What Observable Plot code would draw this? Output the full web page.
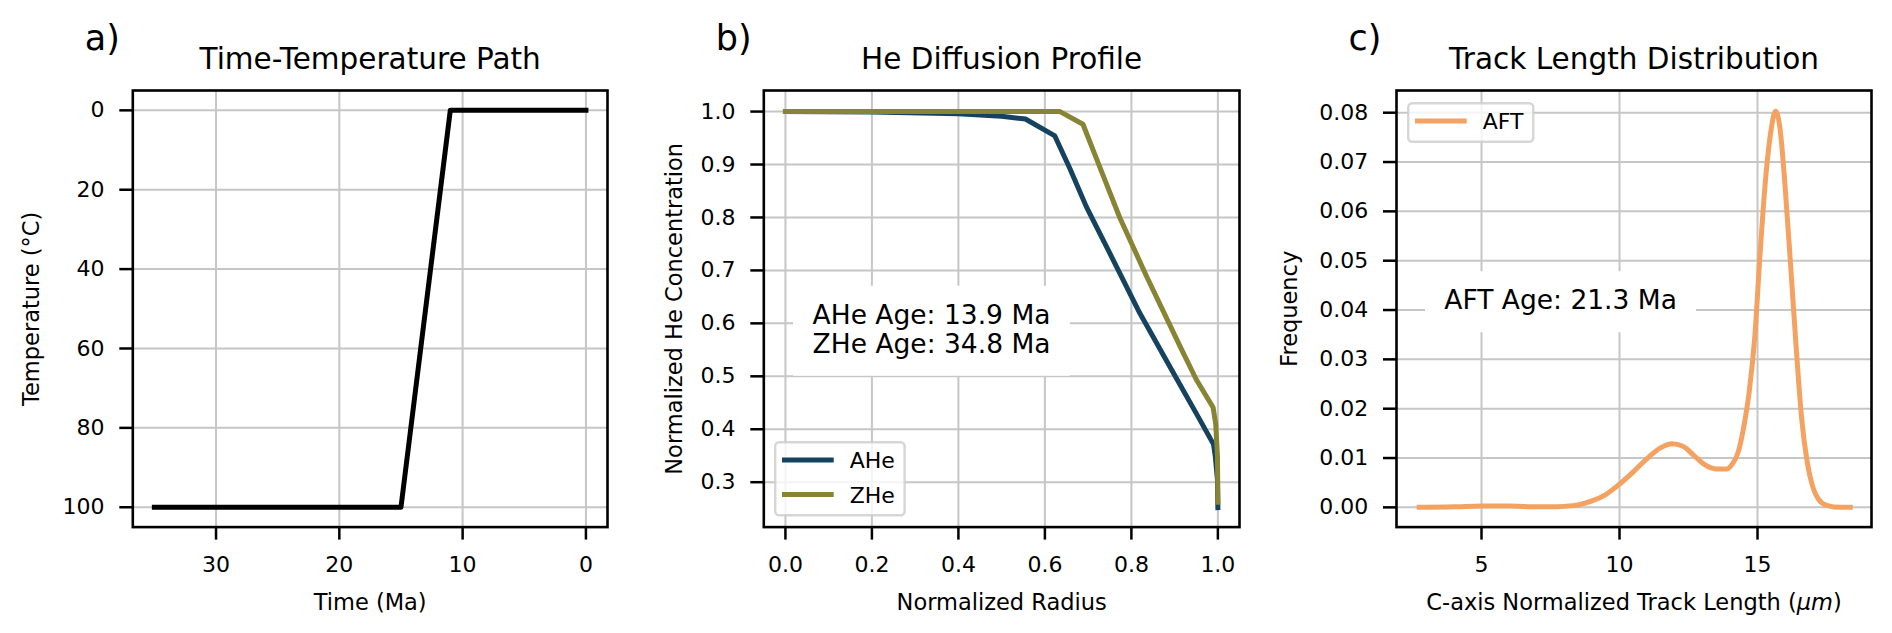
<!DOCTYPE html>
<html><head><meta charset="utf-8">
<script src="https://cdn.jsdelivr.net/npm/d3@7"></script>
<script src="https://cdn.jsdelivr.net/npm/@observablehq/plot@0.6"></script>
<style>
html,body{margin:0;padding:0;background:#fff;}
#root{position:relative;width:1892px;height:633px;overflow:hidden;font-family:"DejaVu Sans",sans-serif;color:#000;}
.annot{position:absolute;background:#fff;font-family:"DejaVu Sans",sans-serif;font-size:26.5px;line-height:29px;white-space:pre;padding:14.5px 19px 18px 19.4px;transform:translateY(-50%);}
</style></head><body><div id="root"></div>
<script>
// ---------- data ----------
const ttTime = [35, 15, 11, 0];
const ttTemp = [100, 100, 0, 0];
const ttTimeTicks = [30, 20, 10, 0];
const ttTempTicks = [0, 20, 40, 60, 80, 100];

const radiusAHe = [0, 0.2, 0.4, 0.5, 0.555, 0.623, 0.658, 0.696, 0.75, 0.819, 0.905, 0.95, 0.99, 0.994, 0.999, 1.0];
const concAHe   = [1.0, 0.999, 0.996, 0.991, 0.986, 0.954, 0.892, 0.82, 0.7325, 0.62, 0.495, 0.43, 0.3715, 0.349, 0.305, 0.252];
const radiusZHe = [0, 0.635, 0.688, 0.727, 0.773, 0.835, 0.912, 0.95, 0.989, 0.995, 0.999, 1.0];
const concZHe   = [1.0, 1.0, 0.976, 0.895, 0.80, 0.689, 0.5575, 0.494, 0.441, 0.41, 0.35, 0.262];
const radiusTicks = [0, 0.2, 0.4, 0.6, 0.8, 1.0];
const concTicks = [0.3, 0.4, 0.5, 0.6, 0.7, 0.8, 0.9, 1.0];

const trackLen  = [2.65, 4.0, 5.0, 6.0, 7.0, 7.5, 8.0, 8.5, 9.0, 9.5, 10.0, 10.5, 11.0, 11.5, 11.9, 12.3, 12.7, 13.1, 13.5, 13.9, 14.1, 14.3, 14.5, 14.7, 14.9, 15.1, 15.3, 15.5, 15.65, 15.8, 16.0, 16.2, 16.4, 16.6, 16.8, 17.0, 17.2, 17.5, 18.0, 18.45];
const trackFreq = [0.0, 0.0001, 0.0003, 0.0003, 0.0001, 0.0001, 0.0002, 0.0005, 0.0013, 0.0026, 0.0047, 0.0072, 0.0099, 0.0121, 0.0129, 0.0124, 0.0105, 0.0086, 0.0078, 0.0078, 0.0089, 0.0112, 0.0163, 0.0235, 0.0345, 0.052, 0.067, 0.0768, 0.0803, 0.0775, 0.065, 0.049, 0.0325, 0.018, 0.0092, 0.0042, 0.0017, 0.0004, 0.0, 0.0];
const lenTicks = [5, 10, 15];
const freqTicks = [0, 0.01, 0.02, 0.03, 0.04, 0.05, 0.06, 0.07, 0.08];

const panelTitles = ["Time-Temperature Path", "He Diffusion Profile", "Track Length Distribution"];
const panelLetters = ["a)", "b)", "c)"];
const xLabels = ["Time (Ma)", "Normalized Radius", "C-axis Normalized Track Length (μm)"];
const yLabels = ["Temperature (°C)", "Normalized He Concentration", "Frequency"];
const seriesNames = ["AHe", "ZHe", "AFT"];
const seriesColors = ["#15435f", "#878434", "#f4a261"];
const heAnnotText = ["AHe Age: 13.9 Ma", "ZHe Age: 34.8 Ma"];
const heAnnotAt = [0.064, 0.585];
const aftAnnotText = ["AFT Age: 21.3 Ma"];
const aftAnnotAt = [3.67, 0.0416];

// ---------- layout ----------
const H = 633, MT = 90, MB = 633 - 526.6;
const panels = [
  {left: 0, width: 650, ml: 132.3, mr: 43, ylabDx: -93.5},
  {left: 650, width: 620, ml: 113.3, mr: 31, ylabDx: -81.5},
  {left: 1270, width: 622, ml: 126, mr: 21, ylabDx: -100}
];
const root = document.getElementById("root");
const GRID = {stroke: "#c6c6c6", strokeOpacity: 1, strokeWidth: 2};
const AX = {tickSize: 13, fontSize: 22, strokeWidth: 2.5, label: null};

function decor(i) {
  return [
    Plot.text([panelTitles[i]], {text: d => d, frameAnchor: "top", dy: -21.7, lineAnchor: "bottom", fontSize: 29.5}),
    Plot.text([panelLetters[i]], {text: d => d, frameAnchor: "top-left", dx: -48, dy: -40.5, textAnchor: "start", lineAnchor: "bottom", fontSize: 35}),
    Plot.text([xLabels[i]], {text: d => d, frameAnchor: "bottom", dy: 82.7, lineAnchor: "bottom", fontSize: 22.5}),
    Plot.text([yLabels[i]], {text: d => d, frameAnchor: "left", dx: panels[i].ylabDx, rotate: -90, textAnchor: "middle", lineAnchor: "bottom", fontSize: 22.5})
  ];
}

function place(svg, i) {
  svg.style.position = "absolute";
  svg.style.left = panels[i].left + "px";
  svg.style.top = "0px";
  svg.style.maxWidth = "none";
  root.appendChild(svg);
  return svg;
}

function base(i) {
  const p = panels[i];
  return {width: p.width, height: H, marginLeft: p.ml, marginRight: p.mr, marginTop: MT, marginBottom: MB,
    style: {fontFamily: "DejaVu Sans", fontSize: "22px", color: "#000", background: "transparent", overflow: "visible"}};
}

// panel a
const ttData = ttTime.map((t, k) => ({t, temp: ttTemp[k]}));
const svgA = place(Plot.plot({
  ...base(0),
  x: {domain: [36.75, -1.75]},
  y: {domain: [-5, 105], reverse: true},
  marks: [
    Plot.gridX({ticks: ttTimeTicks, ...GRID}),
    Plot.gridY({ticks: ttTempTicks, ...GRID}),
    Plot.line(ttData, {x: "t", y: "temp", stroke: "#000", strokeWidth: 5, strokeLinecap: "square", strokeLinejoin: "round"}),
    Plot.frame({stroke: "#000", strokeWidth: 2.6}),
    Plot.axisX({ticks: ttTimeTicks, ...AX, tickPadding: 16, tickFormat: d => String(d)}),
    Plot.axisY({ticks: ttTempTicks, ...AX, tickPadding: 15.3, tickFormat: d => String(d)}),
    ...decor(0)
  ]
}), 0);

// panel b
const aheData = radiusAHe.map((r, k) => ({r, c: concAHe[k]}));
const zheData = radiusZHe.map((r, k) => ({r, c: concZHe[k]}));
const svgB = place(Plot.plot({
  ...base(1),
  x: {domain: [-0.05, 1.05]},
  y: {domain: [0.2152, 1.0398]},
  marks: [
    Plot.gridX({ticks: radiusTicks, ...GRID}),
    Plot.gridY({ticks: concTicks, ...GRID}),
    Plot.line(aheData, {x: "r", y: "c", stroke: seriesColors[0], strokeWidth: 5, strokeLinecap: "square", strokeLinejoin: "round"}),
    Plot.line(zheData, {x: "r", y: "c", stroke: seriesColors[1], strokeWidth: 5, strokeLinecap: "square", strokeLinejoin: "round"}),
    Plot.frame({stroke: "#000", strokeWidth: 2.6}),
    Plot.axisX({ticks: radiusTicks, ...AX, tickPadding: 16, tickFormat: d => d.toFixed(1)}),
    Plot.axisY({ticks: concTicks, ...AX, tickPadding: 15.3, tickFormat: d => d.toFixed(1)}),
    ...decor(1)
  ]
}), 1);

// panel c
const aftData = trackLen.map((l, k) => ({l, f: trackFreq[k]}));
const svgC = place(Plot.plot({
  ...base(2),
  x: {domain: [1.92, 19.13]},
  y: {domain: [-0.004, 0.0845]},
  marks: [
    Plot.gridX({ticks: lenTicks, ...GRID}),
    Plot.gridY({ticks: freqTicks, ...GRID}),
    Plot.line(aftData, {x: "l", y: "f", stroke: seriesColors[2], strokeWidth: 5, curve: "monotone-x", strokeLinecap: "butt", strokeLinejoin: "round"}),
    Plot.frame({stroke: "#000", strokeWidth: 2.6}),
    Plot.axisX({ticks: lenTicks, ...AX, tickPadding: 16, tickFormat: d => String(d)}),
    Plot.axisY({ticks: freqTicks, ...AX, tickPadding: 15.3, tickFormat: d => d.toFixed(2)}),
    ...decor(2)
  ]
}), 2);

// italic μm in panel c x label
(function () {
  const t = [...svgC.querySelectorAll("text")].find(e => e.textContent === xLabels[2]);
  if (!t) return;
  const m = xLabels[2].match(/^(.*\()(μm)(\).*)$/);
  if (!m) return;
  t.textContent = "";
  const ns = "http://www.w3.org/2000/svg";
  [[m[1], false], [m[2], true], [m[3], false]].forEach(([s, it]) => {
    const ts = document.createElementNS(ns, "tspan");
    ts.textContent = s;
    if (it) ts.setAttribute("font-style", "italic");
    t.appendChild(ts);
  });
})();

// legends (matplotlib-like boxes)
function addLegend(entries, left, top, anchorBottom) {
  const n = entries.length, rowH = 34.4, h = 41 + (n - 1) * rowH;
  const svg = d3.select(root).append("svg")
    .style("position", "absolute").style("left", left + "px")
    .style("overflow", "visible");
  const rect = svg.append("rect");
  let maxW = 0;
  entries.forEach((e, k) => {
    const cy = 19 + k * rowH;
    svg.append("line").attr("x1", 8).attr("x2", 59.7).attr("y1", cy).attr("y2", cy)
      .attr("stroke", e.color).attr("stroke-width", 5);
    const tx = svg.append("text").attr("x", 75.7).attr("y", cy + 8.3)
      .attr("font-family", "DejaVu Sans").attr("font-size", 22).attr("fill", "#000").text(e.name);
    maxW = Math.max(maxW, tx.node().getComputedTextLength());
  });
  const w = 75.7 + maxW + 11;
  rect.attr("x", 1.2).attr("y", 1.2).attr("width", w - 2.4).attr("height", h - 2.4).attr("rx", 4)
    .attr("fill", "#fff").attr("fill-opacity", 0.8).attr("stroke", "#ccc").attr("stroke-opacity", 0.8).attr("stroke-width", 2.4);
  rect.lower();
  svg.attr("width", w).attr("height", h).style("top", (anchorBottom ? top - h : top) + "px");
}
addLegend([{name: seriesNames[0], color: seriesColors[0]}, {name: seriesNames[1], color: seriesColors[1]}],
  panels[1].left + panels[1].ml + 11, H - MB - 10.6, true);
addLegend([{name: seriesNames[2], color: seriesColors[2]}],
  panels[2].left + panels[2].ml + 11.3, MT + 11.7, false);

// annotation boxes, anchored through the plot scales
function addAnnot(svg, i, lines, at) {
  const x = svg.scale("x").apply(at[0]) + panels[i].left;
  const y = svg.scale("y").apply(at[1]);
  const d = document.createElement("div");
  d.className = "annot";
  d.textContent = lines.join("\n");
  d.style.left = (x - 19.4) + "px";
  d.style.top = y + "px";
  root.appendChild(d);
}
addAnnot(svgB, 1, heAnnotText, heAnnotAt);
addAnnot(svgC, 2, aftAnnotText, aftAnnotAt);
</script></body></html>
